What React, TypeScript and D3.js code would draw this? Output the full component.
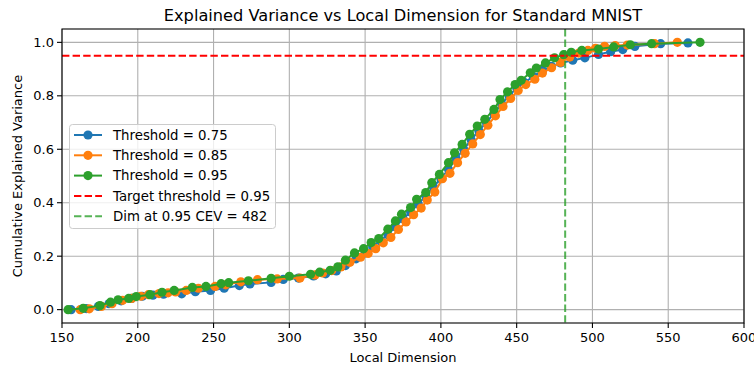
import React from "react";
import * as d3 from "d3";

const blueX = [156,166,174,181,189,196,203,210,217,229,238,248,257,267,274,288,296,306,316,324,331,337,344,350,355,360,365,370,375,380,385,390,395,400,405,410,415,420,425,430,435,440,445,450,455,461,467,473,479,487,495,504,512,520,528,545,563];
const blueY = [0,0.004,0.012,0.022,0.033,0.042,0.05,0.054,0.058,0.059,0.067,0.072,0.08,0.09,0.096,0.102,0.113,0.118,0.126,0.134,0.145,0.165,0.19,0.212,0.235,0.258,0.28,0.31,0.34,0.365,0.395,0.425,0.46,0.49,0.525,0.565,0.6,0.635,0.67,0.7,0.735,0.77,0.8,0.83,0.85,0.872,0.895,0.91,0.923,0.933,0.942,0.955,0.965,0.973,0.985,0.995,0.998];

const orangeX = [162,168,176,183,190,196,202,207,214,220,225,232,240,251,258,268,279,292,307,317,322,328,334,340,347,352,357,362,367,372,377,382,387,391,396,401,406,411,416,421,426,431,436,441,446,451,456,462,467,473,479,485,491,497,502,508,515,523,541,556];
const orangeY = [0,0.003,0.012,0.022,0.035,0.042,0.05,0.056,0.06,0.063,0.066,0.072,0.08,0.087,0.093,0.104,0.112,0.115,0.118,0.13,0.137,0.146,0.16,0.177,0.196,0.21,0.228,0.25,0.27,0.3,0.328,0.355,0.38,0.41,0.44,0.49,0.51,0.55,0.585,0.62,0.655,0.69,0.725,0.76,0.79,0.82,0.842,0.862,0.885,0.905,0.925,0.945,0.96,0.97,0.978,0.985,0.988,0.99,0.995,1.0];

const greenX = [154,164,175,182,187,194,199,208,216,224,236,245,255,260,273,288,300,314,320,327,332,337,343,349,354,359,365,370,374,380,384,390,394,399,405,409,414,419,424,429,435,439,444,449,453,459,463,469,475,481,486,493,504,514,525,539,571];
const greenY = [0,0.005,0.015,0.028,0.037,0.042,0.049,0.056,0.065,0.072,0.083,0.087,0.097,0.101,0.108,0.117,0.125,0.132,0.14,0.147,0.16,0.185,0.212,0.228,0.251,0.266,0.301,0.332,0.357,0.382,0.413,0.438,0.475,0.506,0.55,0.587,0.618,0.656,0.687,0.712,0.749,0.786,0.815,0.842,0.858,0.886,0.904,0.923,0.942,0.954,0.963,0.97,0.975,0.983,0.991,0.995,1.0];

const seriesNames = ["Threshold = 0.75", "Threshold = 0.85", "Threshold = 0.95"];
const seriesColors = ["#1f77b4", "#ff7f0e", "#2ca02c"];
const targetThreshold = 0.95;
const dimAtTarget = 482;
const xTicks = [150,200,250,300,350,400,450,500,550,600];
const yTicks = [0,0.2,0.4,0.6,0.8,1.0];

const W = 754, H = 368;
const left = 62, right = 744, top = 29, bottom = 323;
const FONT = "DejaVu Sans, sans-serif";

export default function App() {
  const x = d3.scaleLinear().domain([150, 600]).range([left, right]);
  const y = d3.scaleLinear().domain([-0.05, 1.05]).range([bottom, top]);
  const series = [
    { xs: blueX, ys: blueY },
    { xs: orangeX, ys: orangeY },
    { xs: greenX, ys: greenY },
  ].map((s, i) => ({
    name: seriesNames[i],
    color: seriesColors[i],
    pts: s.xs.map((v, j) => [v, s.ys[j]] as [number, number]),
  }));
  const line = d3.line<[number, number]>().x(d => x(d[0])).y(d => y(d[1]));

  const legendItems = [
    { label: seriesNames[0], color: seriesColors[0], type: "marker" },
    { label: seriesNames[1], color: seriesColors[1], type: "marker" },
    { label: seriesNames[2], color: seriesColors[2], type: "marker" },
    { label: `Target threshold = ${targetThreshold}`, color: "#ff0000", type: "dash" },
    { label: `Dim at ${targetThreshold} CEV = ${dimAtTarget}`, color: "#2ca02c", type: "dash", opacity: 0.8 },
  ];

  return (
    <svg width={W} height={H} style={{ position: "absolute", left: 0, top: 0, background: "#fff" }} fontFamily={FONT}>
      <rect x={0} y={0} width={W} height={H} fill="#fff" />
      <defs>
        <clipPath id="plotclip">
          <rect x={left} y={top} width={right - left} height={bottom - top} />
        </clipPath>
      </defs>
      {xTicks.map(t => (
        <line key={"gx" + t} x1={x(t)} x2={x(t)} y1={top} y2={bottom} stroke="#b0b0b0" strokeWidth={1.1} />
      ))}
      {yTicks.map(t => (
        <line key={"gy" + t} x1={left} x2={right} y1={y(t)} y2={y(t)} stroke="#b0b0b0" strokeWidth={1.1} />
      ))}
      <g clipPath="url(#plotclip)">
        {series.map(s => (
          <g key={s.name}>
            <path d={line(s.pts) || ""} fill="none" stroke={s.color} strokeWidth={2} />
            {s.pts.map((p, j) => (
              <circle key={j} cx={x(p[0])} cy={y(p[1])} r={4.6} fill={s.color} />
            ))}
          </g>
        ))}
        <line x1={left} x2={right} y1={y(targetThreshold)} y2={y(targetThreshold)} stroke="#ff0000" strokeWidth={2} strokeDasharray="7.4,3.2" />
        <line x1={x(dimAtTarget)} x2={x(dimAtTarget)} y1={top} y2={bottom} stroke="#2ca02c" strokeOpacity={0.8} strokeWidth={2} strokeDasharray="7.4,3.2" />
      </g>
      <rect x={left} y={top} width={right - left} height={bottom - top} fill="none" stroke="#000" strokeWidth={1.1} />
      {xTicks.map(t => (
        <g key={"xt" + t}>
          <line x1={x(t)} x2={x(t)} y1={bottom} y2={bottom + 5} stroke="#000" strokeWidth={1.1} />
          <text x={x(t)} y={bottom + 19} fontSize={13} textAnchor="middle" fill="#000">{t}</text>
        </g>
      ))}
      {yTicks.map(t => (
        <g key={"yt" + t}>
          <line x1={left - 5} x2={left} y1={y(t)} y2={y(t)} stroke="#000" strokeWidth={1.1} />
          <text x={left - 8} y={y(t) + 4.5} fontSize={13} textAnchor="end" fill="#000">{t.toFixed(1)}</text>
        </g>
      ))}
      <text x={(left + right) / 2} y={362} fontSize={13} textAnchor="middle" fill="#000">Local Dimension</text>
      <text transform={`translate(22,${(top + bottom) / 2}) rotate(-90)`} fontSize={13} textAnchor="middle" fill="#000">Cumulative Explained Variance</text>
      <text x={(left + right) / 2} y={21} fontSize={16.2} textAnchor="middle" fill="#000">Explained Variance vs Local Dimension for Standard MNIST</text>
      <g>
        <rect x={69.5} y={124.5} width={206} height={104} rx={3} fill="#fff" fillOpacity={0.8} stroke="#cccccc" strokeWidth={1} />
        {legendItems.map((it, i) => {
          const cy = 135 + i * 20.3;
          return (
            <g key={it.label}>
              {it.type === "marker" ? (
                <>
                  <line x1={74} x2={102} y1={cy} y2={cy} stroke={it.color} strokeWidth={2} />
                  <circle cx={88} cy={cy} r={4.6} fill={it.color} />
                </>
              ) : (
                <line x1={74} x2={102} y1={cy} y2={cy} stroke={it.color} strokeOpacity={it.opacity ?? 1} strokeWidth={2} strokeDasharray="7.4,3.2" />
              )}
              <text x={113} y={cy + 4.7} fontSize={13.3} fill="#000">{it.label}</text>
            </g>
          );
        })}
      </g>
    </svg>
  );
}
